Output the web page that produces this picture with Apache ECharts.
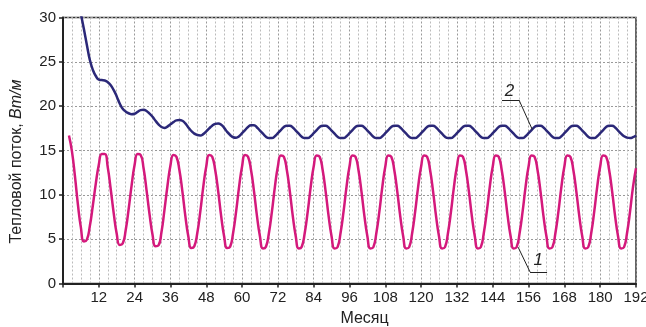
<!DOCTYPE html>
<html>
<head>
<meta charset="utf-8">
<script src="https://cdn.jsdelivr.net/npm/echarts@6/dist/echarts.min.js"></script>
<style>
  html, body { margin: 0; padding: 0; background: #fff; }
  #chart { width: 646px; height: 327px; }
</style>
</head>
<body>
<div id="chart"></div>
<script>
// curve 1: monthly values starting at month 2
var start1 = 2;
var flux1 = [
  16.7, 14.9, 12.1, 8.9, 6.3, 4.75, 4.95, 6.5, 8.8, 11.3, 13.4, 14.6,
  14.6, 13.1, 10.6, 7.9, 5.6, 4.35, 4.5, 6.0, 8.4, 11.1, 13.4, 14.6,
  14.5, 13.0, 10.5, 7.8, 5.5, 4.2, 4.3, 5.8, 8.3, 11.0, 13.3, 14.5,
  14.3, 12.8, 10.4, 7.6, 5.3, 4.0, 4.2, 5.7, 8.1, 10.9, 13.2, 14.5,
  14.3, 12.8, 10.4, 7.6, 5.3, 4.0, 4.15, 5.7, 8.1, 10.9, 13.2, 14.5,
  14.3, 12.8, 10.4, 7.6, 5.3, 3.95, 4.15, 5.7, 8.1, 10.9, 13.2, 14.45,
  14.3, 12.8, 10.4, 7.6, 5.3, 3.95, 4.15, 5.7, 8.1, 10.9, 13.2, 14.45,
  14.3, 12.8, 10.4, 7.6, 5.3, 3.95, 4.1, 5.7, 8.1, 10.9, 13.2, 14.45,
  14.3, 12.8, 10.4, 7.6, 5.3, 3.95, 4.1, 5.7, 8.1, 10.9, 13.2, 14.45,
  14.3, 12.8, 10.4, 7.6, 5.3, 3.95, 4.1, 5.7, 8.1, 10.9, 13.2, 14.45,
  14.3, 12.8, 10.4, 7.6, 5.3, 3.95, 4.1, 5.7, 8.1, 10.9, 13.2, 14.45,
  14.3, 12.8, 10.4, 7.6, 5.3, 3.95, 4.1, 5.7, 8.1, 10.9, 13.2, 14.45,
  14.3, 12.8, 10.4, 7.6, 5.3, 3.95, 4.1, 5.7, 8.1, 10.9, 13.2, 14.45,
  14.3, 12.8, 10.4, 7.6, 5.3, 3.95, 4.1, 5.7, 8.1, 10.9, 13.2, 14.45,
  14.3, 12.8, 10.4, 7.6, 5.3, 3.95, 4.1, 5.7, 8.1, 10.9, 13.2, 14.45,
  14.3, 12.8, 10.4, 7.6, 5.3, 3.95, 4.1, 5.7, 8.1, 10.9, 13.0
];

// curve 2: monthly values starting at month 5 (first point above the frame)
var start2 = 5;
var flux2 = [
  32.2, 30.4, 28.7, 26.9, 25.2, 24.1, 23.4, 23.0, 22.95, 22.9, 22.7, 22.35,
  21.8, 21.1, 20.3, 19.7, 19.4, 19.2, 19.1, 19.15, 19.35, 19.55, 19.6, 19.45,
  19.15, 18.8, 18.35, 17.95, 17.65, 17.55, 17.7, 17.95, 18.2, 18.4, 18.45, 18.35,
  18.05, 17.6, 17.2, 16.9, 16.75, 16.7, 16.85, 17.15, 17.5, 17.8, 18.0, 18.05,
  17.9, 17.55, 17.1, 16.75, 16.5, 16.45, 16.6, 16.95, 17.3, 17.65, 17.85, 17.85,
  17.6,
  17.25, 16.9, 16.55, 16.4, 16.4, 16.6, 16.95, 17.3, 17.65, 17.8, 17.8, 17.6,
  17.25, 16.9, 16.55, 16.4, 16.4, 16.6, 16.95, 17.3, 17.65, 17.8, 17.8, 17.6,
  17.25, 16.9, 16.55, 16.4, 16.4, 16.6, 16.95, 17.3, 17.65, 17.8, 17.8, 17.6,
  17.25, 16.9, 16.55, 16.4, 16.4, 16.6, 16.95, 17.3, 17.65, 17.8, 17.8, 17.6,
  17.25, 16.9, 16.55, 16.4, 16.4, 16.6, 16.95, 17.3, 17.65, 17.8, 17.8, 17.6,
  17.25, 16.9, 16.55, 16.4, 16.4, 16.6, 16.95, 17.3, 17.65, 17.8, 17.8, 17.6,
  17.25, 16.9, 16.55, 16.4, 16.4, 16.6, 16.95, 17.3, 17.65, 17.8, 17.8, 17.6,
  17.25, 16.9, 16.55, 16.4, 16.4, 16.6, 16.95, 17.3, 17.65, 17.8, 17.8, 17.6,
  17.25, 16.9, 16.55, 16.4, 16.4, 16.6, 16.95, 17.3, 17.65, 17.8, 17.8, 17.6,
  17.25, 16.9, 16.55, 16.4, 16.4, 16.6, 16.95, 17.3, 17.65, 17.8, 17.8, 17.6,
  17.25, 16.9, 16.6, 16.45, 16.4, 16.5, 16.7
];

// callout leaders (month, value) and their labels
var leader1 = [[152.5, 4.1], [156.5, 1.3], [162.2, 1.3]];
var leader2 = [[147.1, 20.7], [152.8, 20.7], [157.2, 17.4]];
var label1 = [159.2, 2.6];
var label2 = [149.6, 21.7];

function pairs(start, arr) {
  return arr.map(function (v, i) { return [start + i, v]; });
}
function segs(pts) {
  var out = [];
  for (var i = 0; i < pts.length - 1; i++) {
    out.push([{ coord: pts[i] }, { coord: pts[i + 1] }]);
  }
  return out;
}

var font = 'Liberation Sans, Arial, sans-serif';
var myChart = echarts.init(document.getElementById('chart'));
myChart.setOption({
  animation: false,
  backgroundColor: '#fff',
  grid: {
    left: 63, right: 10, top: 17.5, bottom: 43.5,
    outerBoundsMode: 'none', containLabel: false,
    show: true, borderColor: '#333', borderWidth: 1.5
  },
  xAxis: {
    type: 'value', min: 0, max: 192, interval: 12,
    name: 'Месяц', nameLocation: 'middle', nameGap: 27,
    nameTextStyle: { fontFamily: font, fontSize: 16, color: '#222', padding: [0, 0, 0, 30] },
    axisLine: { lineStyle: { color: '#222', width: 2 } },
    axisTick: { length: 4, lineStyle: { color: '#222', width: 1.5 } },
    axisLabel: {
      fontFamily: font, fontSize: 15, color: '#222', margin: 7,
      formatter: function (v) { return v === 0 ? '' : v; }
    },
    splitLine: { show: true, lineStyle: { color: '#999', type: [2, 2], width: 1 } },
    minorTick: { show: true, splitNumber: 4, length: 0 },
    minorSplitLine: { show: true, lineStyle: { color: '#bbb', type: [2, 2], width: 1 } }
  },
  yAxis: {
    type: 'value', min: 0, max: 30, interval: 5,
    name: '{a|Тепловой поток, }{b|Вт/м}', nameLocation: 'middle', nameGap: 38,
    nameTextStyle: {
      padding: [0, 22, 0, 0],
      rich: {
        a: { fontFamily: font, fontSize: 16, color: '#222' },
        b: { fontFamily: font, fontSize: 16, color: '#222', fontStyle: 'italic' }
      }
    },
    axisLine: { show: true, lineStyle: { color: '#222', width: 2 } },
    axisTick: { show: true, length: 4, lineStyle: { color: '#222', width: 1.5 } },
    axisLabel: { fontFamily: font, fontSize: 15, color: '#222', margin: 7 },
    splitLine: { show: true, lineStyle: { color: '#999', type: [2, 2], width: 1 } }
  },
  series: [
    {
      name: '1', type: 'line', smooth: true, showSymbol: false,
      data: pairs(start1, flux1),
      lineStyle: { color: '#d4197c', width: 2.5 },
      z: 3,
      markLine: {
        silent: true, symbol: ['none', 'none'], label: { show: false },
        lineStyle: { color: '#222', width: 1, type: 'solid' },
        data: segs(leader1)
      },
      markPoint: {
        silent: true, symbol: 'circle', symbolSize: 0,
        label: { show: true, formatter: '1', fontFamily: font, fontSize: 17, fontStyle: 'italic', color: '#222' },
        data: [{ coord: label1 }]
      }
    },
    {
      name: '2', type: 'line', smooth: true, showSymbol: false,
      data: pairs(start2, flux2),
      lineStyle: { color: '#2b2878', width: 2.5 },
      z: 3,
      markLine: {
        silent: true, symbol: ['none', 'none'], label: { show: false },
        lineStyle: { color: '#222', width: 1, type: 'solid' },
        data: segs(leader2)
      },
      markPoint: {
        silent: true, symbol: 'circle', symbolSize: 0,
        label: { show: true, formatter: '2', fontFamily: font, fontSize: 17, fontStyle: 'italic', color: '#222' },
        data: [{ coord: label2 }]
      }
    }
  ]
});
</script>
</body>
</html>
